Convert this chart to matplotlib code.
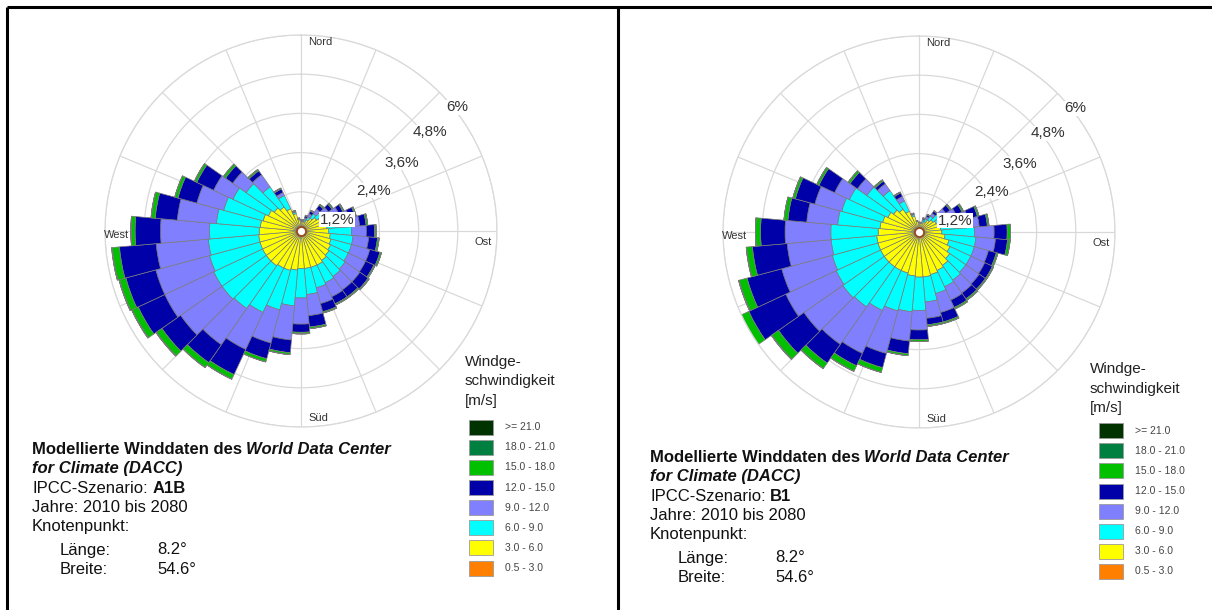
import numpy as np
import matplotlib
matplotlib.use('Agg')
import matplotlib.pyplot as plt
from matplotlib.patches import Rectangle

plt.rcParams['font.family'] = ['Liberation Sans', 'DejaVu Sans']

# wind direction sectors (degrees, clockwise from north)
directions = np.arange(0, 360, 10)

speed_classes = ['0.5 - 3.0', '3.0 - 6.0', '6.0 - 9.0', '9.0 - 12.0',
                 '12.0 - 15.0', '15.0 - 18.0', '18.0 - 21.0', '>= 21.0']
class_colors = ['#ff8000', '#ffff00', '#00ffff', '#8080ff',
                '#0000a8', '#00c000', '#008040', '#003300']

# frequency (%) per sector and speed class, scenario A1B
a1b_05_3 = [0.15] * 36
a1b_3_6 = [0.15, 0.13, 0.15, 0.23, 0.33, 0.43, 0.50, 0.57, 0.65, 0.70, 0.75, 0.80,
           0.85, 0.90, 0.95, 1.00, 1.00, 1.00, 1.00, 1.05, 1.10, 1.10, 1.15, 1.15,
           1.15, 1.15, 1.15, 1.13, 1.10, 1.05, 0.95, 0.85, 0.75, 0.60, 0.40, 0.20]
a1b_6_9 = [0.02, 0.02, 0.06, 0.10, 0.17, 0.24, 0.35, 0.43, 0.55, 0.70, 0.70, 0.65,
           0.60, 0.60, 0.60, 0.60, 0.65, 0.80, 0.90, 1.10, 1.25, 1.50, 1.60, 1.65,
           1.65, 1.60, 1.55, 1.52, 1.35, 1.25, 1.20, 1.05, 0.75, 0.45, 0.05, 0.02]
a1b_9_12 = [0.01, 0.02, 0.06, 0.10, 0.17, 0.20, 0.27, 0.37, 0.45, 0.45, 0.48, 0.58,
            0.58, 0.55, 0.50, 0.47, 0.50, 0.65, 0.80, 1.05, 1.05, 1.25, 1.35, 1.55,
            1.65, 1.70, 1.60, 1.50, 1.20, 0.85, 0.65, 0.50, 0.45, 0.10, 0.02, 0.01]
a1b_12_15 = [0.01, 0.02, 0.06, 0.09, 0.14, 0.14, 0.14, 0.19, 0.20, 0.25, 0.27, 0.32,
             0.28, 0.31, 0.26, 0.24, 0.26, 0.35, 0.25, 0.39, 0.50, 0.85, 0.67, 0.70,
             0.90, 0.95, 1.13, 0.78, 0.68, 0.60, 0.57, 0.27, 0.15, 0.12, 0.02, 0.01]
a1b_15_18 = [0.01, 0.01, 0.02, 0.03, 0.04, 0.04, 0.04, 0.04, 0.05, 0.05, 0.05, 0.05,
             0.04, 0.04, 0.04, 0.04, 0.04, 0.05, 0.05, 0.06, 0.10, 0.15, 0.18, 0.20,
             0.20, 0.20, 0.22, 0.12, 0.12, 0.10, 0.08, 0.08, 0.05, 0.03, 0.01, 0.01]
a1b_18_21 = [0.0, 0.0, 0.0, 0.0, 0.0, 0.0, 0.0, 0.0, 0.0, 0.0, 0.0, 0.0,
             0.0, 0.0, 0.0, 0.0, 0.0, 0.0, 0.0, 0.0, 0.0, 0.01, 0.01, 0.02,
             0.02, 0.02, 0.02, 0.01, 0.01, 0.0, 0.0, 0.0, 0.0, 0.0, 0.0, 0.0]
a1b_21 = [0.0] * 36

# scenario B1
b1_05_3 = [0.15] * 36
b1_3_6 = [0.13, 0.11, 0.15, 0.20, 0.30, 0.37, 0.43, 0.48, 0.52, 0.55, 0.65, 0.80,
          0.90, 1.00, 1.10, 1.15, 1.20, 1.23, 1.23, 1.20, 1.15, 1.15, 1.15, 1.15,
          1.15, 1.15, 1.15, 1.10, 1.05, 1.00, 0.90, 0.80, 0.70, 0.55, 0.35, 0.18]
b1_6_9 = [0.01, 0.02, 0.06, 0.10, 0.15, 0.26, 0.37, 0.52, 0.73, 1.00, 0.95, 0.80,
          0.70, 0.60, 0.55, 0.55, 0.60, 0.77, 1.02, 1.10, 1.20, 1.35, 1.50, 1.55,
          1.50, 1.45, 1.40, 1.45, 1.30, 1.30, 1.30, 1.00, 0.70, 0.35, 0.05, 0.01]
b1_9_12 = [0.0, 0.01, 0.04, 0.07, 0.10, 0.22, 0.30, 0.40, 0.45, 0.60, 0.60, 0.45,
           0.47, 0.50, 0.48, 0.45, 0.60, 0.50, 0.60, 0.90, 1.35, 1.45, 1.40, 1.45,
           1.70, 1.60, 1.35, 1.40, 0.95, 0.85, 0.50, 0.35, 0.25, 0.15, 0.02, 0.0]
b1_12_15 = [0.01, 0.01, 0.04, 0.06, 0.08, 0.16, 0.20, 0.30, 0.25, 0.40, 0.37, 0.25,
            0.26, 0.23, 0.22, 0.25, 0.30, 0.20, 0.30, 0.39, 0.45, 0.42, 0.70, 0.95,
            1.25, 1.10, 1.07, 0.75, 0.58, 0.62, 0.53, 0.28, 0.10, 0.12, 0.02, 0.01]
b1_15_18 = [0.0, 0.0, 0.01, 0.02, 0.02, 0.04, 0.05, 0.05, 0.05, 0.10, 0.08, 0.05,
            0.04, 0.04, 0.05, 0.05, 0.05, 0.05, 0.05, 0.06, 0.15, 0.18, 0.20, 0.25,
            0.25, 0.25, 0.18, 0.15, 0.12, 0.08, 0.07, 0.07, 0.05, 0.03, 0.01, 0.0]
b1_18_21 = [0.0, 0.0, 0.0, 0.0, 0.0, 0.0, 0.0, 0.0, 0.0, 0.0, 0.0, 0.0,
            0.0, 0.0, 0.0, 0.0, 0.0, 0.0, 0.0, 0.0, 0.0, 0.01, 0.01, 0.02,
            0.02, 0.02, 0.01, 0.01, 0.0, 0.0, 0.0, 0.0, 0.0, 0.0, 0.0, 0.0]
b1_21 = [0.0] * 36

ring_ticks = [1.2, 2.4, 3.6, 4.8, 6.0]
ring_labels = ['1,2%', '2,4%', '3,6%', '4,8%', '6%']
compass = ['Nord', 'Ost', 'Süd', 'West']

scenarios = [
    ('A1B', [a1b_05_3, a1b_3_6, a1b_6_9, a1b_9_12, a1b_12_15, a1b_15_18, a1b_18_21, a1b_21]),
    ('B1', [b1_05_3, b1_3_6, b1_6_9, b1_9_12, b1_12_15, b1_15_18, b1_18_21, b1_21]),
]

W, H = 1212, 610
fig = plt.figure(figsize=(W / 100, H / 100), dpi=100)
fig.patch.set_facecolor('white')

# pixel overlay for texts, legend and frame
ov = fig.add_axes([0, 0, 1, 1], zorder=5)
ov.set_xlim(0, W)
ov.set_ylim(H, 0)
ov.axis('off')
ov.patch.set_alpha(0)

# frame
ov.plot([7, W], [7, 7], color='black', lw=2.2, solid_capstyle='butt')
ov.plot([7, 7], [7, H], color='black', lw=2.2, solid_capstyle='butt')
ov.plot([618, 618], [7, H], color='black', lw=2.2, solid_capstyle='butt')

R_PX = 196
ring_lab_pos = [(73, 1.16), (61, 2.53), (56, 3.73), (52.6, 4.97), (51.7, 6.11)]
compass_pos = [(5.7, 5.81), (93.5, 5.58), (174.8, 5.75), (268.8, 5.66)]

panel_dx = [0, 618]
panel_dy = [0, 8]
centers = [(301, 231), (919, 232)]


def put_line(x, y, pieces, size=12):
    r = fig.canvas.get_renderer()
    for s, w, st in pieces:
        t = ov.text(x, y, s, fontsize=size, fontweight=w, fontstyle=st,
                    ha='left', va='center', color='#111111')
        bb = t.get_window_extent(r)
        x += bb.width + 4.5


for k, (name, freqs) in enumerate(scenarios):
    cx, cy = centers[k]
    ax = fig.add_axes([(cx - R_PX) / W, 1 - (cy + R_PX) / H, 2 * R_PX / W, 2 * R_PX / H],
                      projection='polar')
    ax.set_theta_zero_location('N')
    ax.set_theta_direction(-1)
    ax.set_axisbelow(True)
    theta = np.radians(directions)
    bottom = np.zeros(len(directions))
    for vals, col in zip(freqs, class_colors):
        vals = np.array(vals)
        ax.bar(theta, vals, width=np.radians(10), bottom=bottom, color=col,
               edgecolor='#7a7a7a', linewidth=0.5, zorder=2)
        bottom = bottom + vals
    ax.plot([0], [0], 'o', ms=6.5, mfc='white', mec='#9a4a1a', mew=1.3, zorder=4)
    ax.set_ylim(0, 6)
    ax.set_rticks(ring_ticks)
    ax.set_yticklabels([])
    ax.set_xticks(np.radians(np.arange(0, 360, 22.5)))
    ax.set_xticklabels([])
    ax.grid(color='#d9d9d9', lw=0.9)
    ax.spines['polar'].set_color('#d9d9d9')
    ax.spines['polar'].set_linewidth(0.9)
    for (b, r), lab in zip(ring_lab_pos, ring_labels):
        ax.text(np.radians(b), r, lab, fontsize=11, color='#333333', ha='center',
                va='center', zorder=6, clip_on=False,
                bbox=dict(fc='white', ec='none', pad=0.3))
    for (b, r), lab in zip(compass_pos, compass):
        ax.text(np.radians(b), r, lab, fontsize=8, color='#333333', ha='center',
                va='center', zorder=6, clip_on=False)

    dx, dy = panel_dx[k], panel_dy[k]
    # legend
    lx = 465 if k == 0 else 1090
    ly = 362 if k == 0 else 369
    for i, s in enumerate(['Windge-', 'schwindigkeit', '[m/s]']):
        ov.text(lx, ly + i * 19.5, s, fontsize=11, color='#222222', ha='left', va='center')
    bx = 469 if k == 0 else 1099
    by = 427.3 if k == 0 else 430.7
    for i in range(len(speed_classes)):
        j = len(speed_classes) - 1 - i
        yy = by + i * 20.1
        ov.add_patch(Rectangle((bx, yy - 7.5), 24, 15, facecolor=class_colors[j],
                               edgecolor='#9a9a9a', lw=0.6))
        ov.text(bx + 36, yy, speed_classes[j], fontsize=7.5, color='#444444',
                ha='left', va='center')

    # description block
    tx = 32 + dx
    ty = 450 + dy
    put_line(tx, ty, [('Modellierte Winddaten des', 'bold', 'normal'),
                      ('World Data Center', 'bold', 'italic')])
    put_line(tx, ty + 19, [('for Climate (DACC)', 'bold', 'italic')])
    put_line(tx, ty + 38.5, [('IPCC-Szenario:', 'normal', 'normal'),
                             (name, 'bold', 'normal')])
    put_line(tx, ty + 58, [('Jahre: 2010 bis 2080', 'normal', 'normal')])
    put_line(tx, ty + 77, [('Knotenpunkt:', 'normal', 'normal')])
    ov.text(tx + 28, ty + 100, 'Länge:', fontsize=12, color='#111111', va='center')
    ov.text(tx + 125, ty + 100, '8.2°', fontsize=12, color='#111111', va='center')
    ov.text(tx + 28, ty + 119, 'Breite:', fontsize=12, color='#111111', va='center')
    ov.text(tx + 125, ty + 119, '54.6°', fontsize=12, color='#111111', va='center')

fig.savefig('out.png', dpi=100)
